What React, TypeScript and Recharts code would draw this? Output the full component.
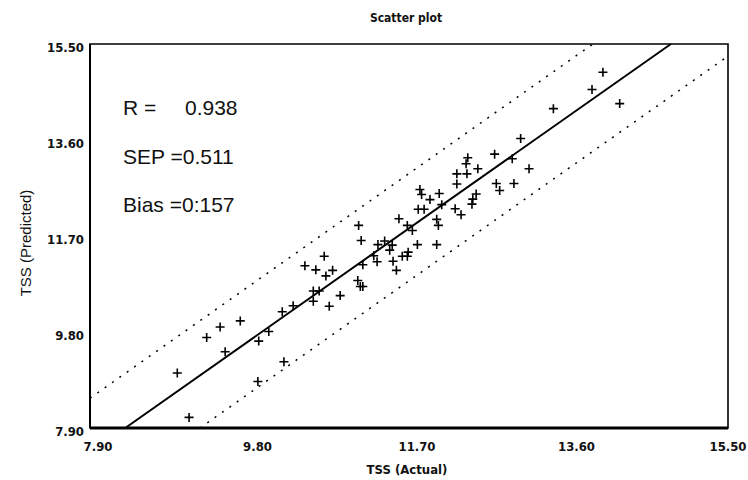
import React from 'react';
import { ScatterChart, Scatter, XAxis, YAxis, ReferenceLine, ReferenceArea } from 'recharts';

const axisTicks = [7.9, 9.8, 11.7, 13.6, 15.5];

const actual = [
  10.46, 10.19, 10.32, 9.69, 9.45, 9.29, 9.51, 10.03, 9.91, 8.94, 10.21, 9.9, 9.08,
  11.83, 11.85, 12.27, 12.06, 11.95, 12.09, 12.5, 12.46, 12.45, 11.81, 11.88, 12.25, 12.32,
  11.58, 11.68, 12.03, 12.05, 11.1, 11.74, 11.13, 11.33, 11.41, 11.5, 11.47, 11.8, 12.03,
  11.69, 11.62, 11.68, 11.28, 10.69, 11.15, 11.32, 11.51, 10.59, 10.79, 10.71, 11.55, 11.09,
  11.12, 11.15, 10.56, 10.63, 10.56, 10.88, 10.75, 13.03, 12.72, 12.4, 12.38, 12.93, 12.52,
  12.27, 12.39, 13.13, 12.74, 12.78, 12.95, 14.01, 13.88, 13.42, 14.21,
];
const predicted = [
  11.11, 10.2, 10.32, 10.02, 9.9, 9.69, 9.41, 9.81, 9.62, 8.99, 9.21, 8.82, 8.11,
  12.62, 12.52, 12.73, 12.54, 12.42, 12.32, 12.53, 12.43, 12.33, 12.23, 12.23, 12.24, 12.12,
  12.04, 11.91, 12.03, 11.91, 11.91, 11.81, 11.61, 11.53, 11.6, 11.52, 11.42, 11.53, 11.53,
  11.38, 11.3, 11.3, 11.31, 11.3, 11.13, 11.19, 11.2, 11.03, 11.02, 10.91, 11.02, 10.82,
  10.7, 10.7, 10.61, 10.61, 10.41, 10.52, 10.31, 13.63, 13.32, 13.25, 13.13, 13.23, 13.03,
  12.93, 12.93, 13.03, 12.74, 12.6, 12.74, 14.94, 14.6, 14.22, 14.32,
];

const fitLine = [{ x: 8.32, y: 7.9 }, { x: 14.82, y: 15.5 }];
const upperLimit = [{ x: 7.9, y: 8.49 }, { x: 13.89, y: 15.5 }];
const lowerLimit = [{ x: 9.21, y: 7.9 }, { x: 15.5, y: 15.26 }];

const points = actual.map((x, i) => ({ x, y: predicted[i] }));

const narrow = "'Liberation Sans Narrow', 'DejaVu Sans Condensed', 'Arial Narrow', sans-serif";
const plain = "'Liberation Sans', Arial, sans-serif";

const Cross = (props: any) => {
  const { cx, cy } = props;
  if (cx == null || cy == null) return null;
  return <path d={`M${cx - 4.5},${cy}h9M${cx},${cy - 4.5}v9`} stroke="#000" strokeWidth={1.6} fill="none" />;
};

const XTick = ({ x, y, payload }: any) => (
  <text x={Math.min(x + 8, 728)} y={y} dy="0.71em" textAnchor="middle" fontFamily={narrow} fontWeight="bold" fontSize={13} fill="#111">
    {payload.value.toFixed(2)}
  </text>
);

const YTick = ({ x, y, payload }: any) => (
  <text x={x} y={y + 3} dy="0.35em" textAnchor="end" fontFamily={narrow} fontWeight="bold" fontSize={13} fill="#111">
    {payload.value.toFixed(2)}
  </text>
);

export default function App() {
  return (
    <div style={{ position: 'absolute', left: 0, top: 0, width: 748, height: 480, background: '#fff' }}>
      <ScatterChart width={748} height={480} margin={{ top: 44, right: 20, bottom: 0, left: 0 }}>
        <XAxis
          type="number"
          dataKey="x"
          domain={[7.9, 15.5]}
          ticks={axisTicks}
          allowDataOverflow
          height={52}
          tickLine={false}
          tickSize={0}
          tickMargin={14}
          axisLine={{ stroke: '#000', strokeWidth: 3 }}
          tick={<XTick />}
        />
        <YAxis
          type="number"
          dataKey="y"
          domain={[7.9, 15.5]}
          ticks={axisTicks}
          allowDataOverflow
          width={90}
          tickLine={false}
          tickSize={0}
          tickMargin={6}
          axisLine={{ stroke: '#000', strokeWidth: 2 }}
          tick={<YTick />}
        />
        <ReferenceArea x1={7.9} x2={15.5} y1={7.9} y2={15.5} fill="none" stroke="#000" strokeWidth={1.6} />
        <ReferenceLine segment={upperLimit} stroke="#000" strokeWidth={1.5} strokeDasharray="2 7" />
        <ReferenceLine segment={lowerLimit} stroke="#000" strokeWidth={1.5} strokeDasharray="2 7" />
        <ReferenceLine segment={fitLine} stroke="#000" strokeWidth={2} />
        <Scatter data={points} shape={<Cross />} isAnimationActive={false} />
      </ScatterChart>
      <svg width={748} height={480} style={{ position: 'absolute', left: 0, top: 0, pointerEvents: 'none' }}>
        <text x={406} y={22} textAnchor="middle" fontFamily={narrow} fontWeight="bold" fontSize={12} fill="#111">
          Scatter plot
        </text>
        <text x={407} y={474} textAnchor="middle" fontFamily={narrow} fontWeight="bold" fontSize={13} fill="#111">
          TSS (Actual)
        </text>
        <text
          x={25}
          y={243}
          transform="rotate(-90, 25, 243)"
          textAnchor="middle"
          dominantBaseline="central"
          fontFamily={plain}
          fontSize={15}
          fill="#111"
        >
          TSS (Predicted)
        </text>
        <g fontFamily={plain} fontSize={21} fill="#111">
          <text x={123} y={115}>R =</text>
          <text x={185} y={115}>0.938</text>
          <text x={123} y={164}>SEP =0.511</text>
          <text x={123} y={212}>Bias =0:157</text>
        </g>
      </svg>
    </div>
  );
}
